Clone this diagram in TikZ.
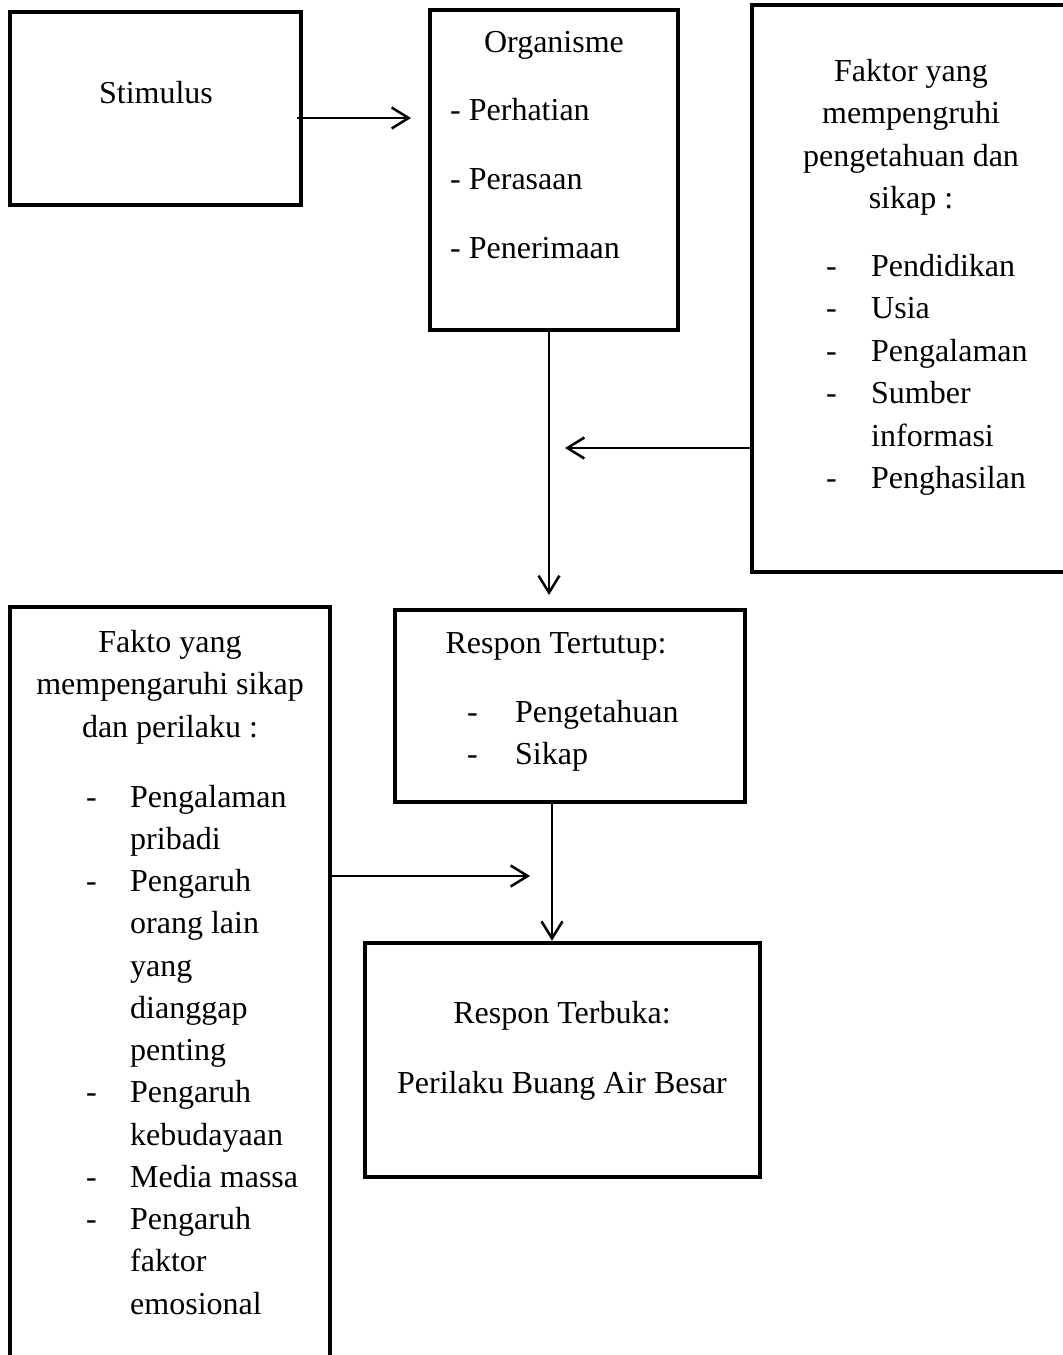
\documentclass[tikz,border=0pt]{standalone}
\usepackage{fontspec}
\setmainfont{Liberation Serif}
\usetikzlibrary{arrows.meta}
\newcommand{\lidash}[2]{\makebox[#1][l]{-}#2}
\begin{document}
\begin{tikzpicture}[x=1pt,y=-1pt,
  box/.style={draw, line width=4.6pt, rectangle, inner sep=0pt},
  txt/.style={inner sep=0pt, font=\fontsize{32pt}{42.5pt}\selectfont},
  arr/.style={line width=2pt, -{Straight Barb[length=17pt,width=21pt,line width=2.5pt]}}]
\useasboundingbox (0,0) rectangle (1063,1355);
\clip (0,0) rectangle (1063,1355);
% boxes
\node[box, minimum width=291pt, minimum height=193pt] (stim) at (155.5,108.5) {};
\node[box, minimum width=248pt, minimum height=320pt] (org) at (554,170) {};
\node[box, minimum width=328pt, minimum height=567pt] (right) at (916,288.5) {};
\node[box, minimum width=350pt, minimum height=192pt] (tert) at (570,706) {};
\node[box, minimum width=395pt, minimum height=234pt] (terb) at (562.5,1060) {};
\node[box, minimum width=320pt, minimum height=773pt] (left) at (170,993.5) {};
% texts
\node[txt, anchor=base] (stimt) at (156,103) {Stimulus};
\node[txt, anchor=base] (orgt) at (554,52) {Organisme};
\node[txt, anchor=base west] (orgl) at (450,120) {\parbox[t]{220pt}{\baselineskip=69pt - Perhatian\\ - Perasaan\\ - Penerimaan}};
\node[txt, anchor=base] (rh) at (911,81) {\parbox[t]{300pt}{\centering Faktor yang\\ mempengruhi\\ pengetahuan dan\\ sikap :}};
\node[txt, anchor=base west] (rl) at (826,276) {\parbox[t]{236pt}{\raggedright\lidash{45pt}{Pendidikan}\\ \lidash{45pt}{Usia}\\ \lidash{45pt}{Pengalaman}\\ \lidash{45pt}{Sumber}\\ \hspace*{45pt}informasi\\ \lidash{45pt}{Penghasilan}}};
\node[txt, anchor=base] (tertt) at (556,653) {Respon Tertutup:};
\node[txt, anchor=base west] (tertl) at (467,722) {\parbox[t]{260pt}{\raggedright\lidash{48pt}{Pengetahuan}\\ \lidash{48pt}{Sikap}}};
\node[txt, anchor=base] (terbt) at (562,1023) {Respon Terbuka:};
\node[txt, anchor=base] (terbl) at (562,1093) {Perilaku Buang Air Besar};
\node[txt, anchor=base] (lh) at (170,652) {\parbox[t]{300pt}{\centering Fakto yang\\ mempengaruhi sikap\\ dan perilaku :}};
\node[txt, anchor=base west] (ll) at (86,807) {\parbox[t]{240pt}{\raggedright\baselineskip=42.25pt \lidash{44pt}{Pengalaman}\\ \hspace*{44pt}pribadi\\ \lidash{44pt}{Pengaruh}\\ \hspace*{44pt}orang lain\\ \hspace*{44pt}yang\\ \hspace*{44pt}dianggap\\ \hspace*{44pt}penting\\ \lidash{44pt}{Pengaruh}\\ \hspace*{44pt}kebudayaan\\ \lidash{44pt}{Media massa}\\ \lidash{44pt}{Pengaruh}\\ \hspace*{44pt}faktor\\ \hspace*{44pt}emosional}};
% connectors
\coordinate (s1) at ([xshift=-6pt]stim.east);
\coordinate (a1) at (411,118);
\coordinate (a2) at (549,595);
\coordinate (a3) at (565,448);
\coordinate (a4) at (552,802);
\coordinate (a5) at (530,876);
\draw[arr] (s1 |- a1) -- (a1);
\draw[arr] (org.south -| a2) -- (a2);
\draw[arr] (right.west |- a3) -- (a3);
\draw[arr] (tert.south -| a4) -- (terb.north -| a4);
\draw[arr] (left.east |- a5) -- (a5);
\end{tikzpicture}
\end{document}
